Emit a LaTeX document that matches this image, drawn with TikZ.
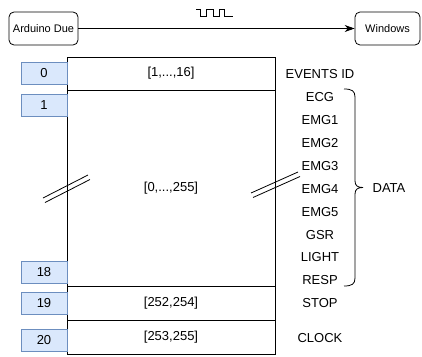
\documentclass[tikz,border=0pt]{standalone}
\usepackage{fontspec}
\setmainfont{Liberation Sans}
\usetikzlibrary{arrows.meta}
\definecolor{bfill}{HTML}{DAE8FC}
\definecolor{bline}{HTML}{6C8EBF}
\begin{document}
\begin{tikzpicture}[x=1pt,y=-1pt,
  dev/.style={draw,rounded corners=5pt,line width=0.8pt,minimum width=69pt,minimum height=33pt,inner sep=0pt,font=\fontsize{11}{13}\selectfont},
  idx/.style={draw=bline,fill=bfill,line width=0.8pt,minimum width=46pt,minimum height=22pt,inner sep=0pt,font=\fontsize{13}{15}\selectfont},
  row/.style={draw,line width=0.8pt,minimum width=208pt,inner sep=0pt,font=\fontsize{13}{15}\selectfont},
  lab/.style={inner sep=0pt,font=\fontsize{13}{15}\selectfont},
  brk/.style={line width=0.8pt}]
\useasboundingbox (0,0) rectangle (422,356);
% devices
\node[dev] (ard) at (43.5,28.5) {Arduino Due};
\node[dev,minimum width=65pt] (win) at (387.5,28.5) {Windows};
\draw[line width=0.8pt,-{Stealth[length=10pt,width=7pt]}] (ard) -- (win);
% pulse symbol
\draw[line width=0.8pt] (196,9.5) -- (200,9.5) -- (200,16) -- (206.5,16) -- (206.5,9.5) -- (213,9.5) -- (213,16) -- (219,16) -- (219,9.5) -- (224,9.5) -- (224,16) -- (233,16);
% main rows
\node[row,minimum height=33pt] (r0) at (171,73.5) {[1,...,16]};
\node[row,minimum height=196pt] (rd) at (171,188) {[0,...,255]};
\node[row,minimum height=34pt] (rs) at (171,303) {[252,254]};
\node[row,minimum height=34pt] (rc) at (171,337) {[253,255]};
% index boxes
\node[idx] (i0) at (44,73) {0};
\node[idx] (i1) at (44,105.5) {1};
\node[idx] (i18) at (44,272) {18};
\node[idx] (i19) at (44,303) {19};
\node[idx] (i20) at (44,340) {20};
% right labels
\node[lab] (lev) at (320,74) {EVENTS ID};
\node[lab] (l1) at (320,97) {ECG};
\node[lab] (l2) at (320,120) {EMG1};
\node[lab] (l3) at (320,143) {EMG2};
\node[lab] (l4) at (320,166) {EMG3};
\node[lab] (l5) at (320,189) {EMG4};
\node[lab] (l6) at (320,212) {EMG5};
\node[lab] (l7) at (320,235) {GSR};
\node[lab] (l8) at (320,257) {LIGHT};
\node[lab] (l9) at (320,280) {RESP};
\node[lab] (lst) at (320,303) {STOP};
\node[lab] (lcl) at (320,338) {CLOCK};
\node[lab] (data) at (389,188) {DATA};
% brace
\draw[line width=0.8pt] (344,89) .. controls (352,89) and (355,91) .. (355,97) -- (355,181)
  .. controls (355,186) and (358,187.5) .. (363,187.5)
  .. controls (358,187.5) and (355,189) .. (355,194) -- (355,278)
  .. controls (355,284) and (352,286) .. (344,286);
% break marks
\draw[brk] (43,198) -- (88,175);
\draw[brk] (45,202.5) -- (90,179.5);
\draw[brk] (251,193) -- (298,172);
\draw[brk] (253,197.5) -- (300,176.5);
\end{tikzpicture}
\end{document}
